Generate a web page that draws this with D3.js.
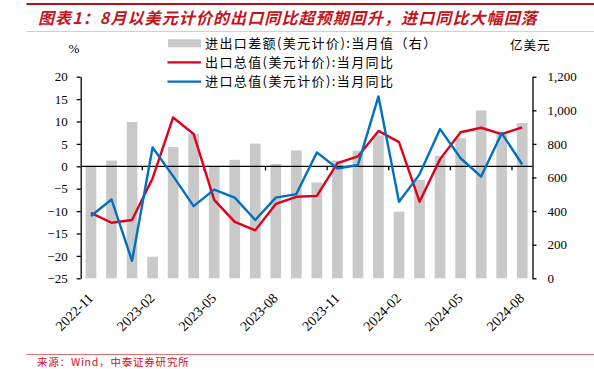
<!DOCTYPE html>
<html><head><meta charset="utf-8">
<script src="https://cdn.jsdelivr.net/npm/d3@7"></script>
<style>body{margin:0;background:#fff}</style>
</head><body>
<svg id="c" width="594" height="369"></svg>
<script>
const months = ["2022-11","2022-12","2023-01","2023-02","2023-03","2023-04","2023-05","2023-06","2023-07","2023-08","2023-09","2023-10","2023-11","2023-12","2024-01","2024-02","2024-03","2024-04","2024-05","2024-06","2024-07","2024-08"];
const balance = [663,701,930,129,781,860,662,705,802,681,761,570,701,759,850,397,586,729,834,999,864,924];
const exportYoY = [-10.4,-12.6,-12.0,-2.7,10.9,7.2,-7.5,-12.4,-14.3,-8.4,-6.8,-6.6,0.7,2.2,7.9,5.4,-7.9,1.6,7.6,8.6,7.2,8.7];
const importYoY = [-11.1,-7.4,-21.1,4.2,-2.2,-8.9,-5.2,-7.0,-12.0,-7.0,-6.2,3.1,-0.5,0.3,15.6,-7.9,-1.8,8.3,1.8,-2.3,7.4,0.4];
const leftTicks = [20,15,10,5,0,-5,-10,-15,-20,-25];
const rightTicks = [0,200,400,600,800,1000,1200];
const labelMonths = ["2022-11","2023-02","2023-05","2023-08","2023-11","2024-02","2024-05","2024-08"];
const legendNames = ["进出口差额(美元计价):当月值（右）","出口总值(美元计价):当月同比","进口总值(美元计价):当月同比"];
const titleText = "图表1：8月以美元计价的出口同比超预期回升，进口同比大幅回落";
const sourceText = "来源：Wind，中泰证券研究所";

const svg = d3.select("#c");
const RED = "#c4141c";
const L = 80.7, R = 532.5, T = 76.7, B = 278.3;
const x = d3.scaleBand().domain(months).range([L, R]).paddingInner(0.48).paddingOuter(0.24);
const yL = d3.scaleLinear().domain([-25, 20]).range([B, T]);
const yR = d3.scaleLinear().domain([0, 1200]).range([B, T]);
const serif = "'Liberation Serif','Times New Roman',serif";
const cjk = "'Noto Sans CJK SC',sans-serif";

// header / footer rules
svg.append("line").attr("x1",26.5).attr("x2",594).attr("y1",4).attr("y2",4).attr("stroke","#b01018").attr("stroke-width",2.2);
svg.append("line").attr("x1",26.5).attr("x2",594).attr("y1",31.5).attr("y2",31.5).attr("stroke","#e6c8c8").attr("stroke-width",1);
svg.append("line").attr("x1",26.5).attr("x2",594).attr("y1",354.5).attr("y2",354.5).attr("stroke","#e07070").attr("stroke-width",1);

svg.append("text").attr("x",38).attr("y",24).text(titleText)
  .attr("font-family",cjk).attr("font-weight","bold").attr("font-style","italic")
  .attr("font-size",16).attr("letter-spacing",1.1).attr("fill",RED);

svg.append("text").attr("x",37).attr("y",366).text(sourceText)
  .attr("font-family",cjk).attr("font-size",10.5).attr("letter-spacing",0.8).attr("fill","#d0101a");

// bars
svg.append("g").selectAll("rect").data(balance).join("rect")
  .attr("x",(d,i)=>x(months[i])).attr("width",x.bandwidth())
  .attr("y",d=>yR(d)).attr("height",d=>yR(0)-yR(d)).attr("fill","#c9c9c9");

// left axis
const gl = svg.append("g").attr("transform",`translate(${L},0)`)
  .call(d3.axisLeft(yL).tickValues(leftTicks).tickSize(4).tickSizeOuter(0).tickPadding(9).tickFormat(d3.format("d")));
gl.select(".domain").attr("stroke","#000").attr("stroke-width",1.3);
gl.selectAll(".tick line").attr("stroke","#000").attr("stroke-width",1.3);
gl.selectAll("text").attr("font-family",serif).attr("font-size",13).attr("fill","#000");

// right axis
const gr = svg.append("g").attr("transform",`translate(${R},0)`)
  .call(d3.axisRight(yR).tickValues(rightTicks).tickSize(4).tickSizeOuter(0).tickPadding(11).tickFormat(d3.format(",")));
gr.select(".domain").attr("stroke","#000").attr("stroke-width",1.3);
gr.selectAll(".tick line").attr("stroke","#000").attr("stroke-width",1.3);
gr.selectAll("text").attr("font-family",serif).attr("font-size",13).attr("fill","#000");

// zero line with category ticks
const y0 = yL(0);
svg.append("line").attr("x1",L).attr("x2",R).attr("y1",y0).attr("y2",y0).attr("stroke","#000").attr("stroke-width",1.3);
const step = x.step();
svg.append("g").selectAll("line").data(labelMonths.slice(1)).join("line")
  .attr("x1",d=>x(d)-(step-x.bandwidth())/2).attr("x2",d=>x(d)-(step-x.bandwidth())/2)
  .attr("y1",y0).attr("y2",y0+4).attr("stroke","#000").attr("stroke-width",1.3);

// x labels
svg.append("g").selectAll("text").data(labelMonths).join("text")
  .attr("transform",d=>`translate(${x(d)+x.bandwidth()/2+3},${299}) rotate(-45)`)
  .attr("text-anchor","end").text(d=>d)
  .attr("font-family",serif).attr("font-size",14).attr("fill","#000");

// lines
const line = d3.line().x((d,i)=>x(months[i])+x.bandwidth()/2).y(d=>yL(d));
svg.append("path").datum(exportYoY).attr("d",line).attr("fill","none").attr("stroke","#e0001b").attr("stroke-width",2.4).attr("stroke-linejoin","round");
svg.append("path").datum(importYoY).attr("d",line).attr("fill","none").attr("stroke","#0070c0").attr("stroke-width",2.4).attr("stroke-linejoin","round");

// unit labels
svg.append("text").attr("x",74).attr("y",53).attr("text-anchor","middle").text("%")
  .attr("font-family",serif).attr("font-size",13);
svg.append("text").attr("x",510).attr("y",50).text("亿美元")
  .attr("font-family",cjk).attr("font-size",12.5).attr("letter-spacing",1);

// legend
const lg = svg.append("g");
const rows = [43.3, 62.4, 81.6];
lg.append("rect").attr("x",168).attr("y",rows[0]-4).attr("width",33).attr("height",8).attr("fill","#c9c9c9");
lg.append("line").attr("x1",167.5).attr("x2",201).attr("y1",rows[1]).attr("y2",rows[1]).attr("stroke","#e0001b").attr("stroke-width",2.4);
lg.append("line").attr("x1",167.5).attr("x2",201).attr("y1",rows[2]).attr("y2",rows[2]).attr("stroke","#0070c0").attr("stroke-width",2.4);
lg.selectAll("text").data(legendNames).join("text")
  .attr("x",205).attr("y",(d,i)=>rows[i]+4.6).text(d=>d)
  .attr("font-family",cjk).attr("font-size",13).attr("letter-spacing",1.4).attr("fill","#000");
</script>
</body></html>
